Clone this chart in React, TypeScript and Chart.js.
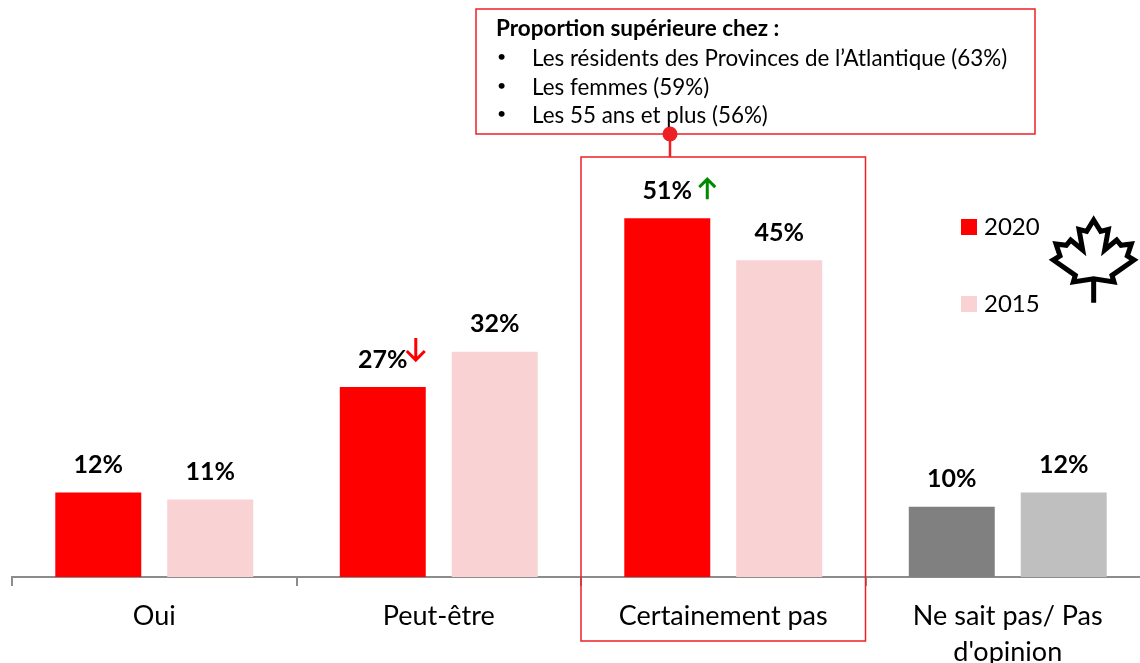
import React, { useEffect, useRef } from "react";
import { Chart, registerables } from "chart.js";

Chart.register(...registerables);

const categories: (string | string[])[] = ["Oui", "Peut-être", "Certainement pas", ["Ne sait pas/ Pas", "d'opinion"]];
const values2020 = [12, 27, 51, 10];
const values2015 = [11, 32, 45, 12];
const colors2020 = ["#ff0000", "#ff0000", "#ff0000", "#808080"];
const colors2015 = ["#f9d2d3", "#f9d2d3", "#f9d2d3", "#bfbfbf"];
const trend2020 = ["", "down", "up", ""];
const calloutTitle = "Proportion supérieure chez :";
const calloutItems = ["Les résidents des Provinces de l’Atlantique (63%)", "Les femmes (59%)", "Les 55 ans et plus (56%)"];

const FONT = "Lato, 'Open Sans', sans-serif";
const RED = "#ed2024";
const LEAF: [number, number][] = [
  [461, 60], [482, 94], [505, 88], [494, 150], [530, 120], [543, 136], [574, 132], [562, 168], [582, 180], [516, 226], [522, 246], [461, 236],
  [400, 246], [406, 226], [340, 180], [360, 168], [348, 132], [379, 136], [392, 120], [428, 150], [417, 88], [440, 94],
];

const overlay = {
  id: "overlay",
  afterDatasetsDraw(chart: any) {
    const ctx = chart.ctx as CanvasRenderingContext2D;
    ctx.save();
    // value labels
    ctx.fillStyle = "#000";
    ctx.font = `bold 25px ${FONT}`;
    ctx.textAlign = "center";
    ctx.textBaseline = "middle";
    chart.data.datasets.forEach((ds: any, di: number) => {
      chart.getDatasetMeta(di).data.forEach((bar: any, i: number) => {
        ctx.fillText(`${ds.data[i]}%`, bar.x, bar.y - 27.5);
      });
    });
    // trend arrows
    chart.getDatasetMeta(0).data.forEach((bar: any, i: number) => {
      const t = trend2020[i];
      if (!t) return;
      ctx.lineWidth = 3;
      if (t === "up") {
        const x = bar.x + 40, y0 = bar.y - 19, y1 = bar.y - 39;
        ctx.strokeStyle = "#008a00";
        ctx.beginPath();
        ctx.moveTo(x, y0); ctx.lineTo(x, y1);
        ctx.moveTo(x - 8, y1 + 8); ctx.lineTo(x, y1); ctx.lineTo(x + 8, y1 + 8);
        ctx.stroke();
      } else {
        const x = bar.x + 33, y0 = bar.y - 49, y1 = bar.y - 27;
        ctx.strokeStyle = "#ff0000";
        ctx.beginPath();
        ctx.moveTo(x, y0); ctx.lineTo(x, y1);
        ctx.moveTo(x - 9, y1 - 9); ctx.lineTo(x, y1); ctx.lineTo(x + 9, y1 - 9);
        ctx.stroke();
      }
    });
    // highlight box around third category
    const xs = chart.scales.x;
    const half = (xs.getPixelForValue(1) - xs.getPixelForValue(0)) / 2;
    const cx = xs.getPixelForValue(2);
    ctx.strokeStyle = RED;
    ctx.lineWidth = 1.5;
    ctx.strokeRect(cx - half, 157, half * 2, 484);
    // callout
    ctx.fillStyle = "#fff";
    ctx.fillRect(476, 9, 559, 125);
    ctx.strokeRect(476, 9, 559, 125);
    ctx.lineWidth = 2.5;
    ctx.beginPath();
    ctx.moveTo(670, 134); ctx.lineTo(670, 157);
    ctx.stroke();
    ctx.fillStyle = RED;
    ctx.beginPath();
    ctx.arc(670, 134, 7.5, 0, Math.PI * 2);
    ctx.fill();
    ctx.fillStyle = "#000";
    ctx.textAlign = "left";
    ctx.font = `bold 22.5px ${FONT}`;
    ctx.fillText(calloutTitle, 496, 29);
    calloutItems.forEach((t, i) => {
      const y = 59 + i * 28.5;
      ctx.font = `16px ${FONT}`;
      ctx.fillText("•", 497, y - 2);
      ctx.font = `22.4px ${FONT}`;
      ctx.fillText(t, 532, y);
    });
    // legend
    ctx.font = `24px ${FONT}`;
    chart.data.datasets.forEach((ds: any, di: number) => {
      const y = 227 + di * 77;
      ctx.fillStyle = ds.backgroundColor[0];
      ctx.fillRect(961, y - 8, 16, 16);
      ctx.fillStyle = "#000";
      ctx.fillText(ds.label, 984, y);
    });
    // maple leaf
    ctx.strokeStyle = "#000";
    ctx.lineWidth = 5;
    ctx.lineJoin = "miter";
    ctx.beginPath();
    LEAF.forEach(([x, y], i) => {
      const px = 940 + x / 3, py = 200 + y / 3;
      if (i === 0) ctx.moveTo(px, py); else ctx.lineTo(px, py);
    });
    ctx.closePath();
    ctx.moveTo(940 + 461 / 3, 200 + 236 / 3);
    ctx.lineTo(940 + 461 / 3, 200 + 308 / 3);
    ctx.stroke();
    ctx.restore();
  },
};

export default function App() {
  const ref = useRef<HTMLCanvasElement>(null);
  useEffect(() => {
    const chart = new Chart(ref.current!, {
      type: "bar",
      data: {
        labels: categories as any,
        datasets: [
          { label: "2020", data: values2020, backgroundColor: colors2020, categoryPercentage: 0.787, barPercentage: 0.768 },
          { label: "2015", data: values2015, backgroundColor: colors2015, categoryPercentage: 0.787, barPercentage: 0.768 },
        ],
      },
      options: {
        responsive: false,
        animation: false,
        layout: { padding: { left: 12, right: 0, top: 0, bottom: 0 } },
        plugins: { legend: { display: false }, tooltip: { enabled: false } },
        scales: {
          y: { display: false, min: 0, max: 82 },
          x: {
            afterFit: (s: any) => { s.height = 86; },
            border: { color: "#8c8c8c", width: 2 },
            grid: { color: "#8c8c8c", lineWidth: 2, tickLength: 9, drawOnChartArea: false, offset: true },
            ticks: {
              autoSkip: false,
              maxRotation: 0,
              minRotation: 0,
              padding: 12,
              color: "#000",
              font: { family: FONT, size: 27, lineHeight: 1.33 },
            },
          },
        },
      },
      plugins: [overlay],
    });
    return () => chart.destroy();
  }, []);
  return (
    <div style={{ position: "absolute", left: 0, top: 0, width: 1140, height: 663, overflow: "hidden", background: "#fff" }}>
      <canvas ref={ref} width={1150} height={663} style={{ display: "block" }} />
    </div>
  );
}
